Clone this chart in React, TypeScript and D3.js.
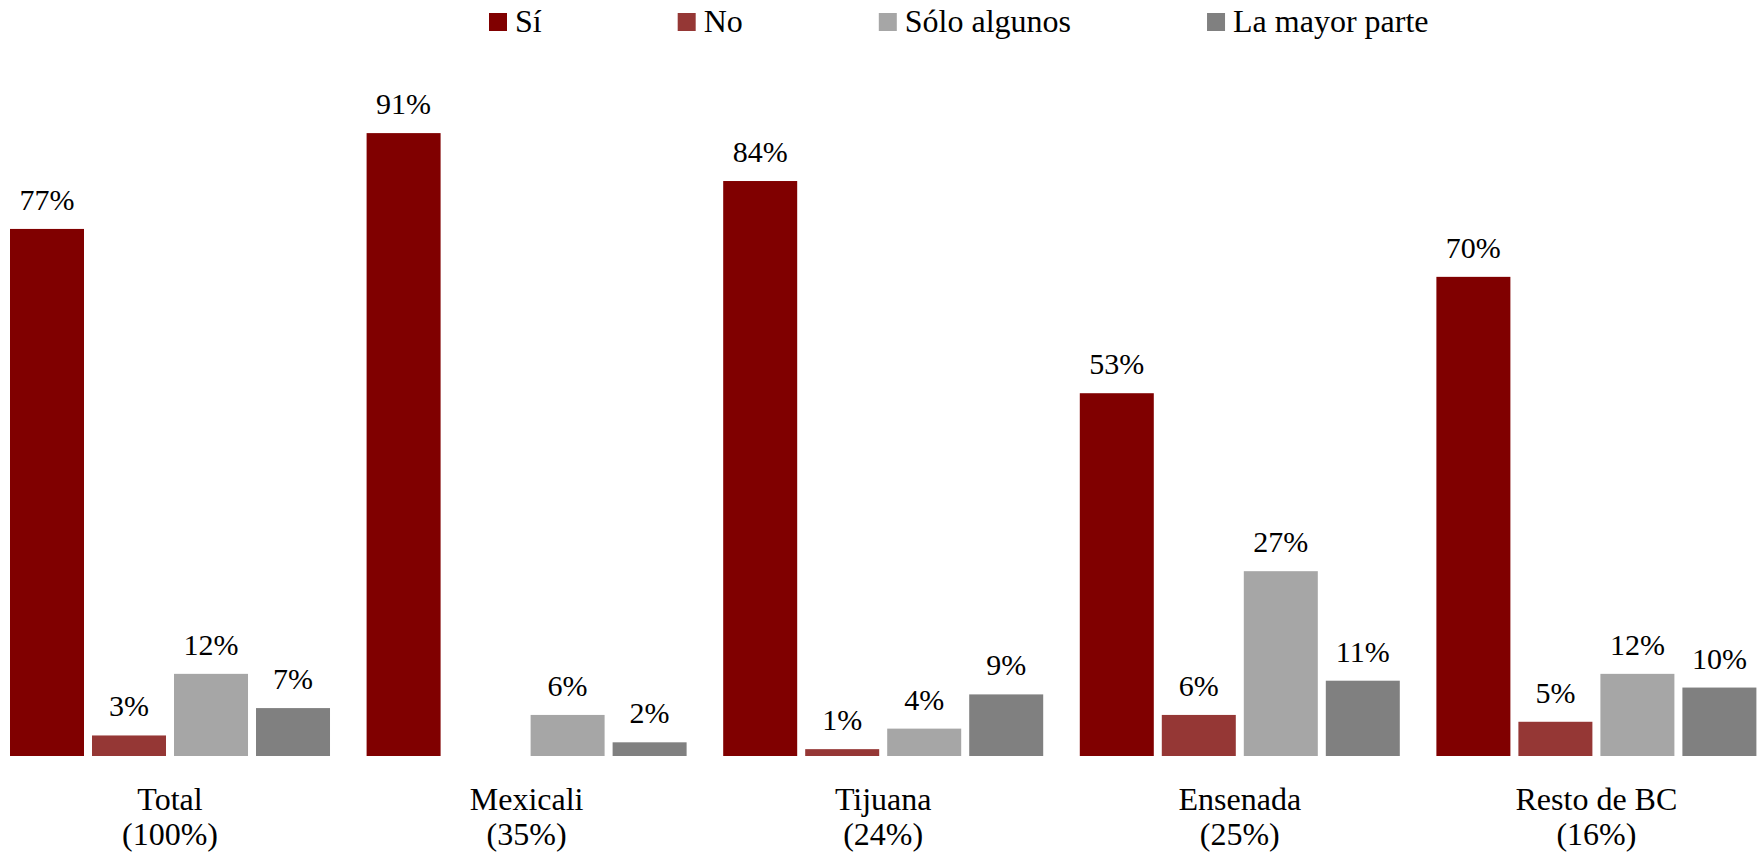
import React, { useRef, useEffect } from "react";
import * as d3 from "d3";

const categories = ["Total", "Mexicali", "Tijuana", "Ensenada", "Resto de BC"];
const shares = ["(100%)", "(35%)", "(24%)", "(25%)", "(16%)"];
const seriesNames = ["Sí", "No", "Sólo algunos", "La mayor parte"];
const seriesColors = ["#800000", "#953735", "#a6a6a6", "#808080"];

const siValues = [77, 91, 84, 53, 70];
const noValues = [3, 0, 1, 6, 5];
const soloValues = [12, 6, 4, 27, 12];
const mayorValues = [7, 2, 9, 11, 10];

const FONT = "'Liberation Serif', 'Times New Roman', serif";

function App() {
    const svgRef = useRef<SVGSVGElement | null>(null);

    useEffect(() => {
        const width = 1764;
        const height = 855;
        const baseline = 756;
        const svg = d3.select(svgRef.current);
        svg.selectAll("*").remove();
        svg.attr("width", width).attr("height", height);

        const series = [siValues, noValues, soloValues, mayorValues];

        const x0 = d3.scaleBand<string>()
            .domain(categories)
            .range([10, 1756.4])
            .paddingInner(0.1026)
            .paddingOuter(0);

        const x1 = d3.scaleBand<string>()
            .domain(seriesNames)
            .range([0, x0.bandwidth()])
            .paddingInner(0.0976)
            .paddingOuter(0);

        const y = d3.scaleLinear().domain([0, 100]).range([baseline, 71.5]);

        const groups = svg.selectAll("g.group")
            .data(categories)
            .enter()
            .append("g")
            .attr("class", "group")
            .attr("transform", (d) => `translate(${x0(d)},0)`);

        groups.each(function (cat, ci) {
            const g = d3.select(this);
            seriesNames.forEach((name, si) => {
                const v = series[si][ci];
                if (!v) return;
                const bx = x1(name) as number;
                g.append("rect")
                    .attr("x", bx)
                    .attr("y", y(v))
                    .attr("width", x1.bandwidth())
                    .attr("height", baseline - y(v))
                    .attr("fill", seriesColors[si]);
                g.append("text")
                    .attr("x", bx + x1.bandwidth() / 2)
                    .attr("y", y(v) - 19)
                    .attr("text-anchor", "middle")
                    .style("font-family", FONT)
                    .style("font-size", "30px")
                    .attr("fill", "#000")
                    .text(`${v}%`);
            });
            g.append("text")
                .attr("x", x0.bandwidth() / 2)
                .attr("y", 810)
                .attr("text-anchor", "middle")
                .style("font-family", FONT)
                .style("font-size", "32px")
                .text(cat);
            g.append("text")
                .attr("x", x0.bandwidth() / 2)
                .attr("y", 845)
                .attr("text-anchor", "middle")
                .style("font-family", FONT)
                .style("font-size", "32px")
                .text(shares[ci]);
        });

        // legend, laid out from measured text widths
        const legend = svg.append("g").attr("class", "legend");
        const items = legend.selectAll("g")
            .data(seriesNames)
            .enter()
            .append("g");
        items.append("rect")
            .attr("x", 0)
            .attr("y", 13)
            .attr("width", 18)
            .attr("height", 18)
            .attr("fill", (_, i) => seriesColors[i]);
        items.append("text")
            .attr("x", 26)
            .attr("y", 32)
            .style("font-family", FONT)
            .style("font-size", "32px")
            .text((d) => d);

        const gap = 136;
        let cursor = 489;
        const offsets: number[] = [];
        items.each(function () {
            const t = d3.select(this).select("text").node() as SVGTextElement;
            offsets.push(cursor);
            cursor += 26 + t.getComputedTextLength() + gap;
        });
        items.attr("transform", (_, i) => `translate(${offsets[i]},0)`);
    }, []);

    return (
        <svg
            ref={svgRef}
            style={{ position: "absolute", left: 0, top: 0, display: "block", background: "#fff" }}
        ></svg>
    );
}

export default App;
